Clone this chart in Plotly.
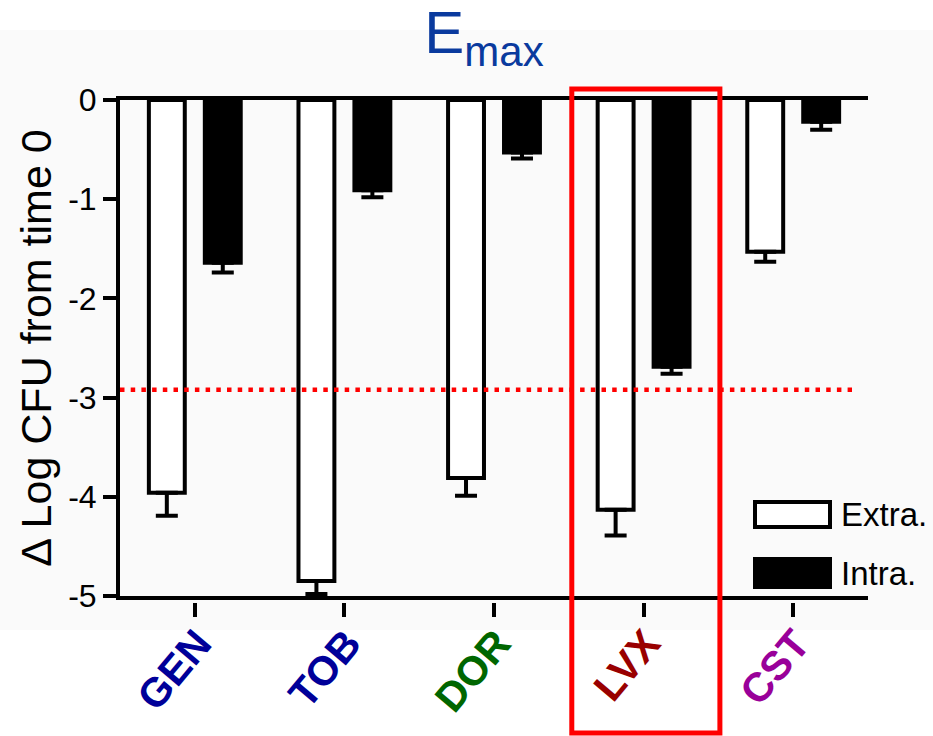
import plotly.graph_objects as go

categories = ["GEN", "TOB", "DOR", "LVX", "CST"]
label_colors = ["#000099", "#000099", "#006600", "#990000", "#990099"]
extra = [-3.96, -4.85, -3.81, -4.13, -1.53]
extra_err = [0.23, 0.13, 0.18, 0.26, 0.10]
intra = [-1.64, -0.91, -0.53, -2.69, -0.22]
intra_err = [0.10, 0.07, 0.06, 0.07, 0.08]
threshold = -2.92
highlight = "LVX"
y_ticks = [0, -1, -2, -3, -4, -5]
y_ticktext = ["0", "-1", "-2", "-3", "-4", "-5"]

FONT = "Liberation Sans, Arial, sans-serif"
W, H = 933, 736
ML, MR, MT, MB = 120, 65, 100, 134
PW = W - ML - MR
PH = H - MT - MB

def px_x(p):
    return (p - ML) / PW

def px_y(p):
    return (H - MB - p) / PH

pos = list(range(len(categories)))
bw = 0.24
half_sep = 0.187

fig = go.Figure()
fig.add_trace(go.Bar(
    x=pos, y=extra, name="Extra.", xaxis="x", yaxis="y",
    width=bw, offset=-half_sep - bw / 2,
    marker=dict(color="white", line=dict(color="black", width=4)),
    error_y=dict(type="data", symmetric=False, array=[0] * len(extra), arrayminus=extra_err,
                 color="black", thickness=4, width=11),
    showlegend=False,
))
fig.add_trace(go.Bar(
    x=pos, y=intra, name="Intra.", xaxis="x2", yaxis="y",
    width=bw, offset=half_sep - bw / 2,
    marker=dict(color="black", line=dict(color="black", width=4)),
    error_y=dict(type="data", symmetric=False, array=[0] * len(intra), arrayminus=intra_err,
                 color="black", thickness=4, width=11),
    showlegend=False,
))

ticktext = [f"<span style='color:{c}'><b>{t}</b></span>" for t, c in zip(categories, label_colors)]

shapes = [
    dict(type="rect", xref="paper", yref="paper", layer="below",
         x0=px_x(0), x1=px_x(W), y0=px_y(630), y1=px_y(30),
         fillcolor="#fafafa", line=dict(width=0)),
    dict(type="line", xref="paper", yref="y", x0=0, x1=px_x(852), y0=threshold, y1=threshold,
         line=dict(color="#ff0000", width=4.5, dash="4.5px,6.2px")),
    dict(type="rect", xref="paper", yref="paper",
         x0=(categories.index(highlight) - 0.48 + 0.5) / 5,
         x1=(categories.index(highlight) + 0.51 + 0.5) / 5,
         y0=px_y(733), y1=px_y(89),
         line=dict(color="#ff0000", width=5), fillcolor="rgba(0,0,0,0)"),
    dict(type="rect", xref="paper", yref="paper",
         x0=px_x(755), x1=px_x(830), y0=px_y(527), y1=px_y(502),
         fillcolor="white", line=dict(color="black", width=4)),
    dict(type="rect", xref="paper", yref="paper",
         x0=px_x(755), x1=px_x(830), y0=px_y(587), y1=px_y(559),
         fillcolor="black", line=dict(color="black", width=4)),
]

annotations = [
    dict(text="Extra.", xref="paper", yref="paper", x=px_x(839), y=px_y(514),
         xanchor="left", yanchor="middle", showarrow=False,
         font=dict(family=FONT, size=33, color="black")),
    dict(text="Intra.", xref="paper", yref="paper", x=px_x(839), y=px_y(573),
         xanchor="left", yanchor="middle", showarrow=False,
         font=dict(family=FONT, size=33, color="black")),
]

fig.update_layout(
    width=W, height=H,
    margin=dict(l=ML, r=MR, t=MT, b=MB),
    paper_bgcolor="white", plot_bgcolor="rgba(0,0,0,0)",
    font=dict(family=FONT, color="black"),
    title=dict(text="E<sub>max</sub>", x=484 / W, xref="container", xanchor="center",
               y=1 - 32 / H, yref="container", yanchor="middle",
               font=dict(family=FONT, size=60, color="#0a3a9e")),
    xaxis=dict(range=[-0.5, 4.5], showline=True, mirror=True, linecolor="black", linewidth=4,
               ticks="", showticklabels=False, showgrid=False, zeroline=False, fixedrange=True),
    xaxis2=dict(range=[-0.5, 4.5], overlaying="x", anchor="free", position=0,
                showline=False, ticks="outside", ticklen=14, tickwidth=4, tickcolor="black",
                tickvals=pos, ticktext=ticktext, tickangle=-50,
                ticklabelstandoff=-14, ticklabelshift=3,
                tickfont=dict(family=FONT, size=41),
                showgrid=False, zeroline=False),
    yaxis=dict(domain=[6 / PH, 1], range=[-5, 0], showline=True, linecolor="black", linewidth=4,
               ticks="outside", ticklen=13, tickwidth=4, tickcolor="black",
               tickvals=y_ticks, ticktext=y_ticktext, tickfont=dict(family=FONT, size=32),
               showgrid=False, zeroline=False,
               title=dict(text="\u0394 Log CFU from time 0", font=dict(family=FONT, size=43),
                          standoff=4)),
    shapes=shapes,
    annotations=annotations,
)

fig.write_html("out.html", config={"displayModeBar": False},
               post_script="document.body.style.margin='0';")
